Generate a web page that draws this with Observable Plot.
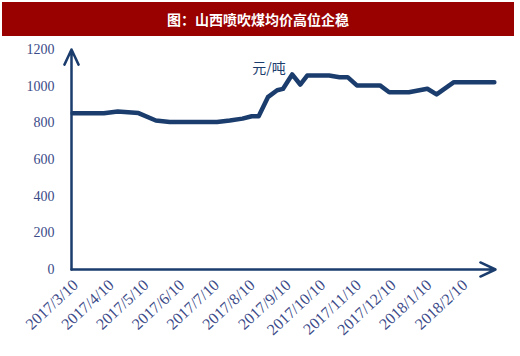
<!DOCTYPE html>
<html>
<head>
<meta charset="utf-8">
<script src="https://cdn.jsdelivr.net/npm/d3@7"></script>
<script src="https://cdn.jsdelivr.net/npm/@observablehq/plot@0.6"></script>
<style>
  html, body { margin: 0; padding: 0; background: #fff; }
  #wrap { width: 520px; height: 356px; position: relative; overflow: hidden; }
  #title { position: absolute; left: 2px; top: 2px; width: 512px; height: 34px; background: #990000;
    color: #fff; font: bold 14px "Noto Sans CJK SC", sans-serif; text-align: center; line-height: 34px; }
  #chart { position: absolute; left: 0; top: 36px; }
</style>
</head>
<body>
<div id="wrap">
  <div id="title">图：山西喷吹煤均价高位企稳</div>
  <div id="chart"></div>
</div>
<script>
const dates = ["2017-03-10","2017-04-06","2017-04-18","2017-05-06","2017-05-21","2017-06-02","2017-07-13","2017-07-24","2017-08-04","2017-08-12","2017-08-18","2017-08-26","2017-09-03","2017-09-08","2017-09-16","2017-09-23","2017-09-29","2017-10-18","2017-10-27","2017-11-03","2017-11-11","2017-12-01","2017-12-09","2017-12-26","2018-01-11","2018-01-19","2018-02-03","2018-03-10"];
const prices = [852,852,862,853,813,805,805,813,823,836,836,940,978,985,1064,1009,1058,1058,1049,1049,1004,1004,967,967,986,955,1022,1022];
const tickDates = ["2017-03-10","2017-04-10","2017-05-10","2017-06-10","2017-07-10","2017-08-10","2017-09-10","2017-10-10","2017-11-10","2017-12-10","2018-01-10","2018-02-10"];
const yTicks = [0,200,400,600,800,1000,1200];
const unitLabel = ["元/吨"];
const unitPos = {date: "2017-08-27", value: 1095};

const parse = d3.utcParse("%Y-%m-%d");
const data = dates.map((d, i) => ({date: parse(d), price: prices[i]}));
const ticks = tickDates.map(parse);
const xStart = parse("2017-03-09");
const xEnd = parse("2018-03-11");
const navy = "#1b3d6d";
const labelColor = "#3b4a88";

const plot = Plot.plot({
  width: 520,
  height: 320,
  marginLeft: 71,
  marginRight: 25,
  marginTop: 13,
  marginBottom: 87,
  style: {fontFamily: "'Liberation Serif', serif", fontSize: "14px", color: labelColor, background: "transparent"},
  x: {type: "utc", domain: [xStart, xEnd]},
  y: {domain: [0, 1200]},
  marks: [
    Plot.axisY({ticks: yTicks, tickSize: 0, tickPadding: 17, fontSize: 14, fill: labelColor, label: null, tickFormat: d => String(d)}),
    Plot.axisX({ticks: ticks, tickSize: 0, tickPadding: 13, tickRotate: -43, fontSize: 16, fill: labelColor, label: null, dx: 3,
      tickFormat: d => `${d.getUTCFullYear()}/${d.getUTCMonth() + 1}/${d.getUTCDate()}`}),
    Plot.line(data, {x: "date", y: "price", stroke: navy, strokeWidth: 4.5, curve: "linear", strokeLinejoin: "round"}),
    Plot.arrow([0], {x1: () => xStart, y1: 0, x2: () => xEnd, y2: 0, stroke: navy, strokeWidth: 2.5, headLength: 10, headAngle: 50}),
    Plot.arrow([0], {x1: () => xStart, y1: 0, x2: () => xStart, y2: 1200, stroke: navy, strokeWidth: 2.5, headLength: 10, headAngle: 50}),
    Plot.text(unitLabel, {x: () => parse(unitPos.date), y: () => unitPos.value, text: d => d, fill: navy,
      fontSize: 14, fontFamily: "'Noto Sans CJK SC', sans-serif", textAnchor: "middle"})
  ]
});
document.getElementById("chart").appendChild(plot);
</script>
</body>
</html>
